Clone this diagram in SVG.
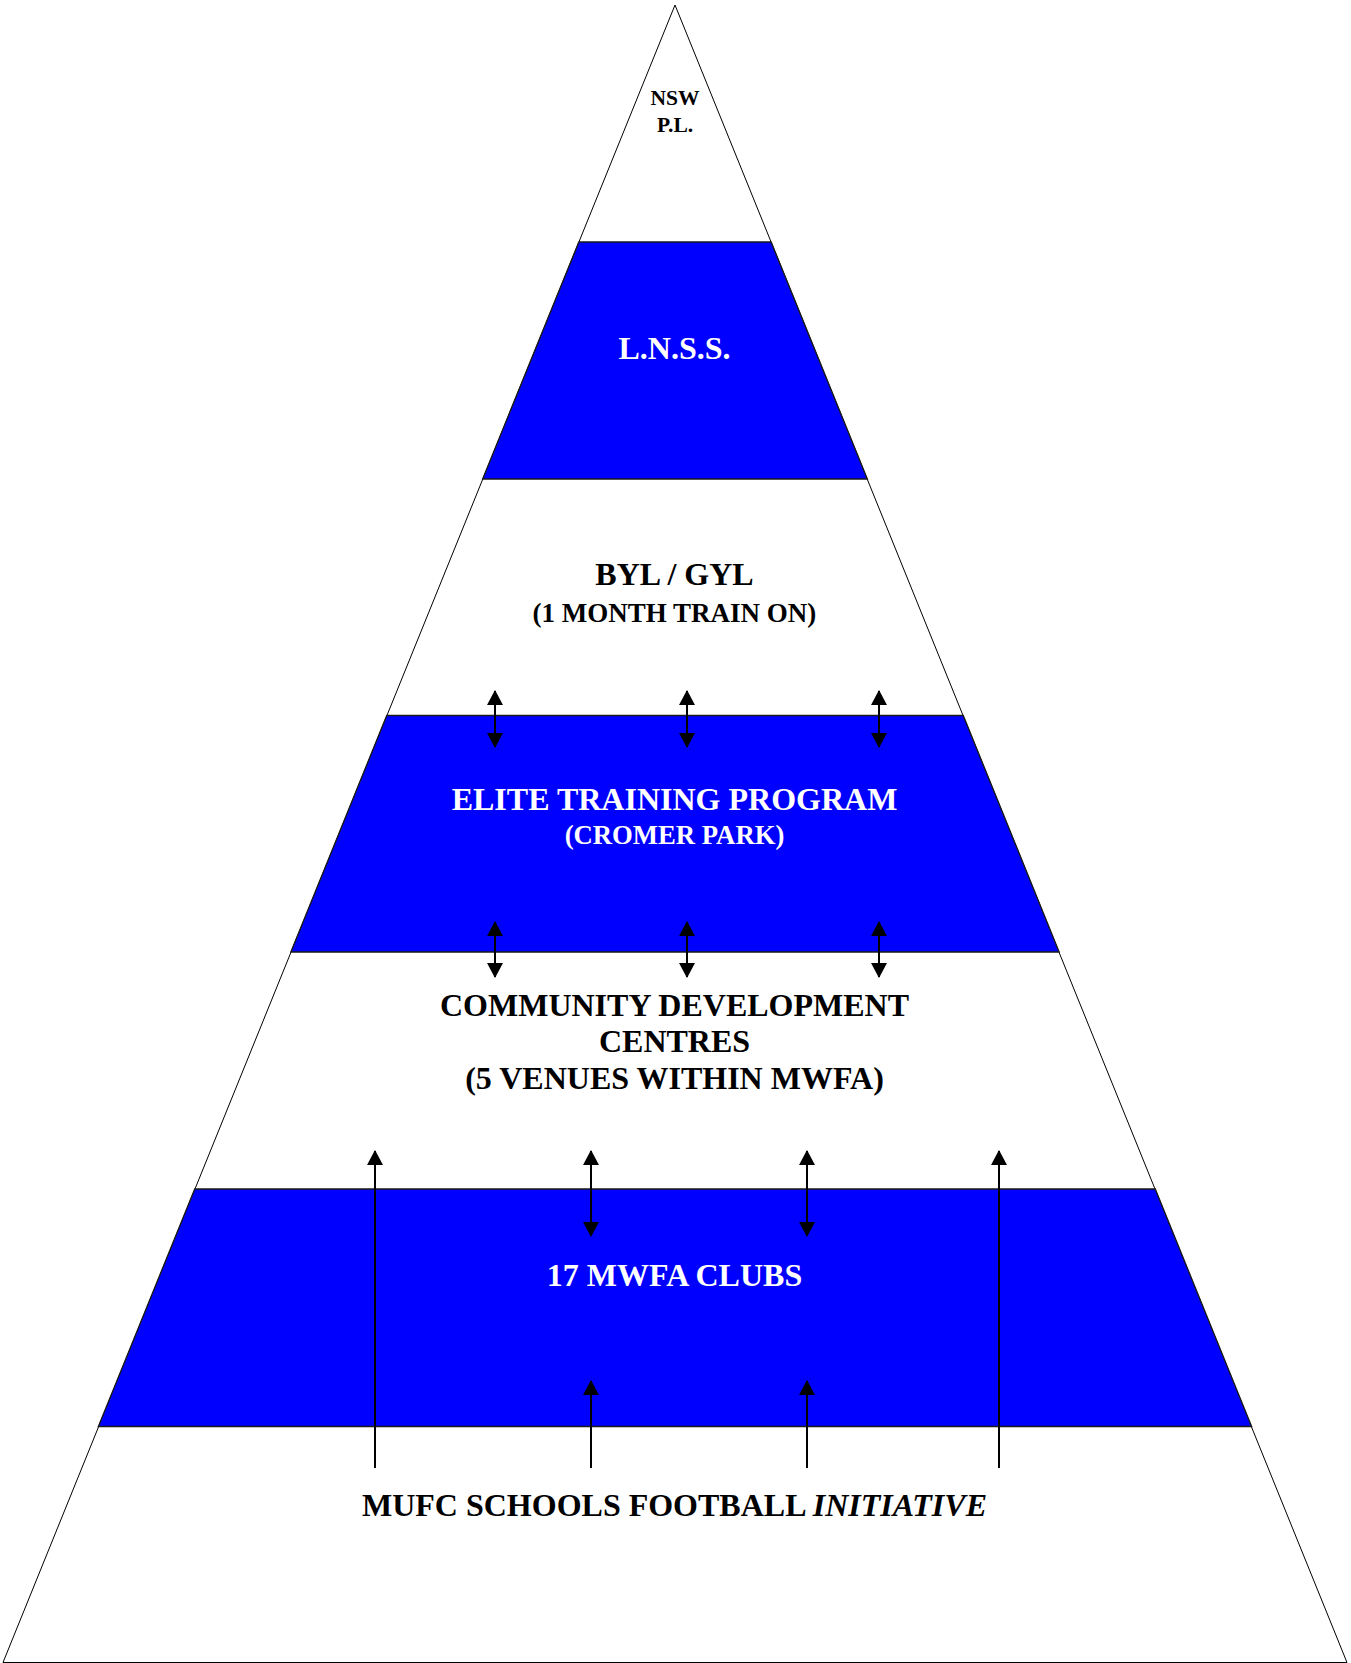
<svg xmlns="http://www.w3.org/2000/svg" width="1351" height="1663" viewBox="0 0 1351 1663">
<style>
.tri{fill:#ffffff;stroke:#000000;stroke-width:1}
.band{fill:#0000ff;stroke:#1a1a1a;stroke-width:1.4}
.t{font-family:"Liberation Serif","Times New Roman",serif;font-weight:bold;text-anchor:middle}
.w{fill:#ffffff}
.k{fill:#000000}
.a{stroke:#000000;stroke-width:2;fill:none}
</style>
<defs>
<marker id="ah" markerUnits="userSpaceOnUse" markerWidth="16" markerHeight="16" refX="14" refY="8" orient="auto-start-reverse">
<path d="M0,0 L15,8 L0,16 z" fill="#000000"/>
</marker>
</defs>
<rect width="1351" height="1663" fill="#ffffff"/>
<g id="pyramid">
<polygon class="tri" points="675,5 3,1662.5 1347,1662.5"/>
</g>
<g id="nsw-pl">
<text class="t k" x="675" y="105" font-size="21.5">NSW</text>
<text class="t k" x="675" y="131.5" font-size="21.5">P.L.</text>
</g>
<g id="lnss">
<polygon class="band" points="578.9,242 771.1,242 867.3,479 482.7,479"/>
<text class="t w" x="674.5" y="358.5" font-size="32">L.N.S.S.</text>
</g>
<g id="byl-gyl">
<text class="t k" x="674.5" y="585" font-size="32">BYL / GYL</text>
<text class="t k" x="674.5" y="622" font-size="27">(1 MONTH TRAIN ON)</text>
</g>
<g id="elite">
<polygon class="band" points="386.8,715.5 963.2,715.5 1059.1,952 290.9,952"/>
<text class="t w" x="674.5" y="810" font-size="32">ELITE TRAINING PROGRAM</text>
<text class="t w" x="674.5" y="844" font-size="26.7">(CROMER PARK)</text>
</g>
<g id="community">
<text class="t k" x="674.5" y="1016" font-size="32">COMMUNITY DEVELOPMENT</text>
<text class="t k" x="674.5" y="1052" font-size="32">CENTRES</text>
<text class="t k" x="674.5" y="1088.5" font-size="32">(5 VENUES WITHIN MWFA)</text>
</g>
<g id="clubs">
<polygon class="band" points="194.8,1189 1155.2,1189 1251.6,1426.5 98.4,1426.5"/>
<text class="t w" x="674.5" y="1286" font-size="32">17 MWFA CLUBS</text>
</g>
<g id="mufc">
<text class="t k" x="674.5" y="1516" font-size="32">MUFC SCHOOLS FOOTBALL <tspan font-style="italic">INITIATIVE</tspan></text>
</g>
<g id="connectors">
<line class="a" x1="495" y1="747" x2="495" y2="691" marker-start="url(#ah)" marker-end="url(#ah)"/>
<line class="a" x1="687" y1="747" x2="687" y2="691" marker-start="url(#ah)" marker-end="url(#ah)"/>
<line class="a" x1="879" y1="747" x2="879" y2="691" marker-start="url(#ah)" marker-end="url(#ah)"/>
<line class="a" x1="495" y1="977" x2="495" y2="922" marker-start="url(#ah)" marker-end="url(#ah)"/>
<line class="a" x1="687" y1="977" x2="687" y2="922" marker-start="url(#ah)" marker-end="url(#ah)"/>
<line class="a" x1="879" y1="977" x2="879" y2="922" marker-start="url(#ah)" marker-end="url(#ah)"/>
<line class="a" x1="591" y1="1236" x2="591" y2="1151" marker-start="url(#ah)" marker-end="url(#ah)"/>
<line class="a" x1="807" y1="1236" x2="807" y2="1151" marker-start="url(#ah)" marker-end="url(#ah)"/>
<line class="a" x1="375" y1="1468" x2="375" y2="1151" marker-end="url(#ah)"/>
<line class="a" x1="999" y1="1468" x2="999" y2="1151" marker-end="url(#ah)"/>
<line class="a" x1="591" y1="1468" x2="591" y2="1381" marker-end="url(#ah)"/>
<line class="a" x1="807" y1="1468" x2="807" y2="1381" marker-end="url(#ah)"/>
</g>
</svg>
